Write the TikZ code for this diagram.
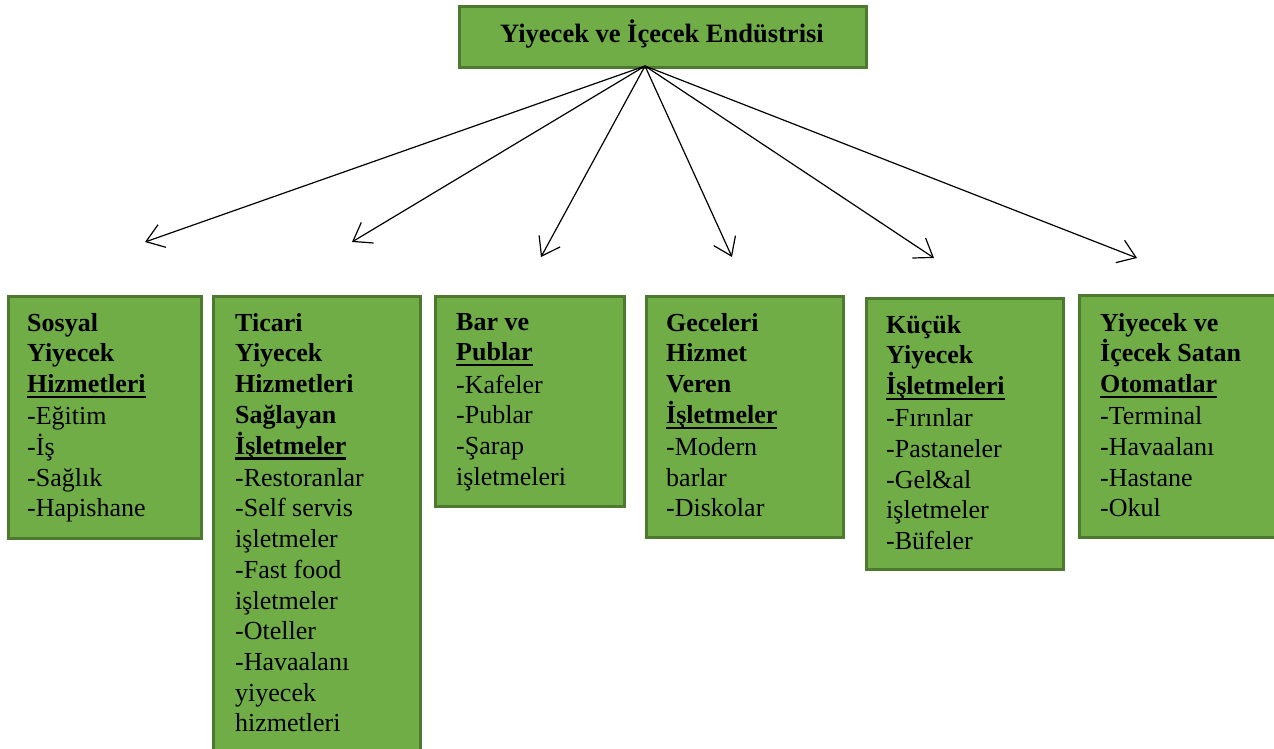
\documentclass[tikz,border=0pt]{standalone}
\usepackage{fontspec}
\setmainfont{Liberation Serif}
\usetikzlibrary{arrows.meta}
\definecolor{boxfill}{HTML}{70AD47}
\definecolor{boxline}{HTML}{4E7A30}
\newcommand\myul[1]{\setbox0\hbox{#1}\rlap{\rule[-5.5pt]{\wd0}{2.2pt}}\box0}
\tikzset{
  box/.style={draw=boxline, fill=boxfill, line width=2.8pt, anchor=north west, inner sep=0pt},
  txt/.style={anchor=north west, inner sep=0pt, align=left, font=\fontsize{26}{30.7}\selectfont},
  conn/.style={line width=1.2pt, -{Straight Barb[length=17pt,width=24pt,line width=1.2pt]}}
}
\begin{document}
\begin{tikzpicture}[x=1pt,y=-1pt]
\useasboundingbox (0,0) rectangle (1274,749);
% top
\node[box, minimum width=407pt, minimum height=61pt] (top) at (458,5) {};
\node[inner sep=0pt, font=\fontsize{26.5}{30.7}\selectfont\bfseries] (toptxt) at (662,34) {Yiyecek ve İçecek Endüstrisi};
% boxes
\node[box, minimum width=193pt, minimum height=242pt] (b1) at (7,295) {};
\node[box, minimum width=207pt, minimum height=470pt] (b2) at (212,295) {};
\node[box, minimum width=189pt, minimum height=210pt] (b3) at (434,295) {};
\node[box, minimum width=197pt, minimum height=241pt] (b4) at (645,295) {};
\node[box, minimum width=197pt, minimum height=271pt] (b5) at (865,297) {};
\node[box, minimum width=205pt, minimum height=242pt] (b6) at (1078,294) {};
% texts
\node[txt] (t1) at (27,313) {\textbf{Sosyal}\\ \textbf{Yiyecek}\\ \textbf{\myul{Hizmetleri}}\\[1.5pt] -Eğitim\\ -İş\\ -Sağlık\\ -Hapishane};
\node[txt] (t2) at (235,313) {\textbf{Ticari}\\ \textbf{Yiyecek}\\ \textbf{Hizmetleri}\\ \textbf{Sağlayan}\\ \textbf{\myul{İşletmeler}}\\[1.5pt] -Restoranlar\\ -Self servis\\ işletmeler\\ -Fast food\\ işletmeler\\ -Oteller\\ -Havaalanı\\ yiyecek\\ hizmetleri};
\node[txt] (t3) at (456,313) {\textbf{Bar ve}\\ \textbf{\myul{Publar}}\\[1.5pt] -Kafeler\\ -Publar\\ -Şarap\\ işletmeleri};
\node[txt] (t4) at (666,313) {\textbf{Geceleri}\\ \textbf{Hizmet}\\ \textbf{Veren}\\ \textbf{\myul{İşletmeler}}\\[1.5pt] -Modern\\ barlar\\ -Diskolar};
\node[txt] (t5) at (886,315) {\textbf{Küçük}\\ \textbf{Yiyecek}\\ \textbf{\myul{İşletmeleri}}\\[1.5pt] -Fırınlar\\ -Pastaneler\\ -Gel\&al\\ işletmeler\\ -Büfeler};
\node[txt] (t6) at (1100,313) {\textbf{Yiyecek ve}\\ \textbf{İçecek Satan}\\ \textbf{\myul{Otomatlar}}\\[1.5pt] -Terminal\\ -Havaalanı\\ -Hastane\\ -Okul};
% connectors
\coordinate (o) at (645,66);
\coordinate (e1) at (145,242);
\coordinate (e2) at (352,242);
\coordinate (e3) at (541,257);
\coordinate (e4) at (732,257);
\coordinate (e5) at (934,258);
\coordinate (e6) at (1137,258);
\foreach \e in {e1,e2,e3,e4,e5,e6} \draw[conn] (o) -- (\e);
\end{tikzpicture}
\end{document}
